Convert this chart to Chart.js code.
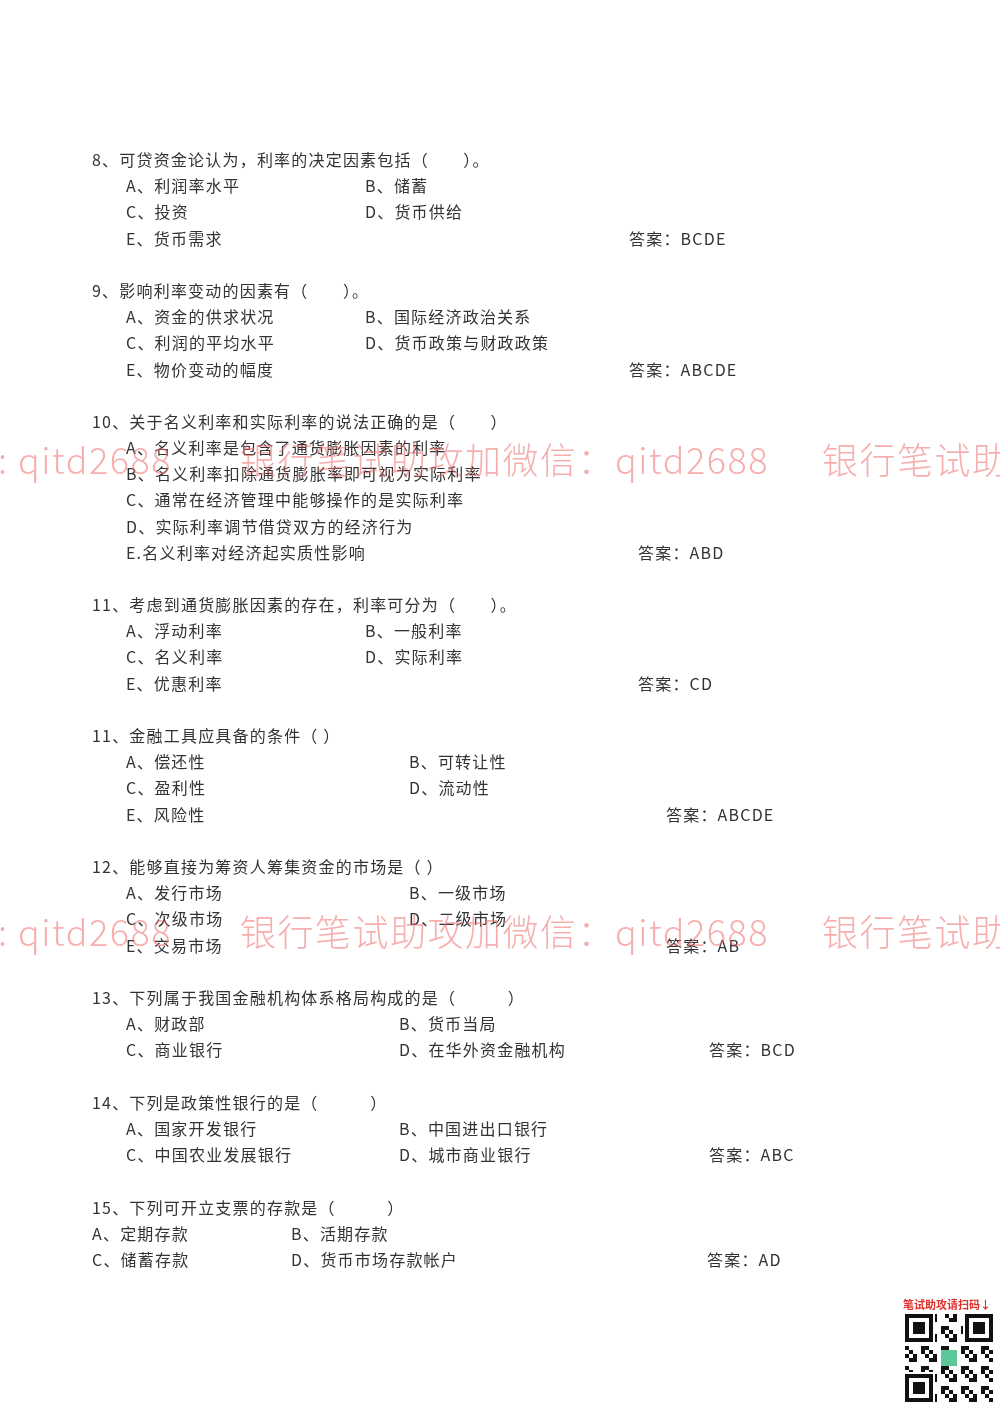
<!DOCTYPE html>
<html><head><meta charset="utf-8">
<script src="https://cdn.jsdelivr.net/npm/chart.js@4/dist/chart.umd.min.js"></script>
<style>html,body{margin:0;padding:0;background:#fff}canvas{display:block}</style>
</head><body>
<canvas id="c" width="1000" height="1414"></canvas>
<script>
const lineTexts = [
"8、可贷资金论认为，利率的决定因素包括（　　）。","A、利润率水平","B、储蓄","C、投资","D、货币供给","E、货币需求","答案：BCDE",
"9、影响利率变动的因素有（　　）。","A、资金的供求状况","B、国际经济政治关系","C、利润的平均水平","D、货币政策与财政政策","E、物价变动的幅度","答案：ABCDE",
"10、关于名义利率和实际利率的说法正确的是（　　）","A、名义利率是包含了通货膨胀因素的利率","B、名义利率扣除通货膨胀率即可视为实际利率","C、通常在经济管理中能够操作的是实际利率","D、实际利率调节借贷双方的经济行为","E.名义利率对经济起实质性影响","答案：ABD",
"11、考虑到通货膨胀因素的存在，利率可分为（　　）。","A、浮动利率","B、一般利率","C、名义利率","D、实际利率","E、优惠利率","答案：CD",
"11、金融工具应具备的条件（ ）","A、偿还性","B、可转让性","C、盈利性","D、流动性","E、风险性","答案：ABCDE",
"12、能够直接为筹资人筹集资金的市场是（ ）","A、发行市场","B、一级市场","C、次级市场","D、二级市场","E、交易市场","答案：AB",
"13、下列属于我国金融机构体系格局构成的是（　　　）","A、财政部","B、货币当局","C、商业银行","D、在华外资金融机构","答案：BCD",
"14、下列是政策性银行的是（　　　）","A、国家开发银行","B、中国进出口银行","C、中国农业发展银行","D、城市商业银行","答案：ABC",
"15、下列可开立支票的存款是（　　　）","A、定期存款","B、活期存款","C、储蓄存款","D、货币市场存款帐户","答案：AD"];
const lineX = [92,126,365,126,365,126,629, 92,126,365,126,365,126,629, 92,126,126,126,126,126,638, 92,126,365,126,365,126,638, 92,126,409,126,409,126,666, 92,126,409,126,409,126,666, 92,126,399,126,399,709, 92,126,399,126,399,709, 92,92,291,92,291,707];
const lineY = [160,186,186,212,212,239,239, 291,317,317,343,343,370,370, 422,448,474,500,527,553,553, 605,631,631,657,657,684,684, 736,762,762,788,788,815,815, 867,893,893,919,919,946,946, 998,1024,1024,1050,1050,1050, 1103,1129,1129,1155,1155,1155, 1208,1234,1234,1260,1260,1260];
const watermarkParts = [": qitd2688", "银行笔试助攻加微信：qitd2688", "银行笔试助"];
const watermarkX = [-2, 240, 822];
const watermarkY = [460, 932];

const textPlugin = {
  id:'pageText',
  afterDraw(chart){
    const {ctx, scales:{x,y}} = chart;
    ctx.save();
    ctx.textBaseline='middle';
    ctx.fillStyle='#333';
    ctx.font='16px "Noto Sans CJK SC"';
    if ('letterSpacing' in ctx) ctx.letterSpacing='1.2px';
    lineTexts.forEach((t,i)=>ctx.fillText(t, x.getPixelForValue(lineX[i]), y.getPixelForValue(lineY[i])));
    ctx.font='300 36px "Noto Sans CJK SC"';
    if ('letterSpacing' in ctx) ctx.letterSpacing='1.5px';
    ctx.fillStyle='rgba(238,110,110,0.55)';
    watermarkY.forEach(wy=>watermarkParts.forEach((p,i)=>ctx.fillText(p, x.getPixelForValue(watermarkX[i]), y.getPixelForValue(wy))));
    if ('letterSpacing' in ctx) ctx.letterSpacing='0px';
    ctx.font='bold 11px "Noto Sans CJK SC"';
    ctx.fillStyle='#e0302a';
    ctx.fillText('笔试助攻请扫码↓', x.getPixelForValue(903), y.getPixelForValue(1305));
    const qx=x.getPixelForValue(905), qy=y.getPixelForValue(1314), s=88;
    ctx.fillStyle='#111';
    for(let r=0;r<22;r++)for(let c=0;c<22;c++){ if(((r*7+c*13+r*c)%5)<2) ctx.fillRect(qx+c*4,qy+r*4,4,4); }
    [[0,0],[s-28,0],[0,s-28]].forEach(([a,b])=>{
      ctx.fillStyle='#fff';ctx.fillRect(qx+a-2,qy+b-2,32,32);
      ctx.fillStyle='#111';ctx.fillRect(qx+a,qy+b,28,28);
      ctx.fillStyle='#fff';ctx.fillRect(qx+a+4,qy+b+4,20,20);
      ctx.fillStyle='#111';ctx.fillRect(qx+a+8,qy+b+8,12,12);
    });
    ctx.fillStyle='#5cc89a';ctx.fillRect(qx+36,qy+36,16,16);
    ctx.restore();
  }
};

new Chart(document.getElementById('c'),{
  type:'scatter',
  data:{datasets:[{data:[]}]},
  options:{responsive:false,animation:false,layout:{padding:0},
    plugins:{legend:{display:false},tooltip:{enabled:false}},
    scales:{x:{type:'linear',min:0,max:1000,display:false},y:{type:'linear',min:0,max:1414,reverse:true,display:false}}},
  plugins:[textPlugin]
});
</script>
</body></html>
